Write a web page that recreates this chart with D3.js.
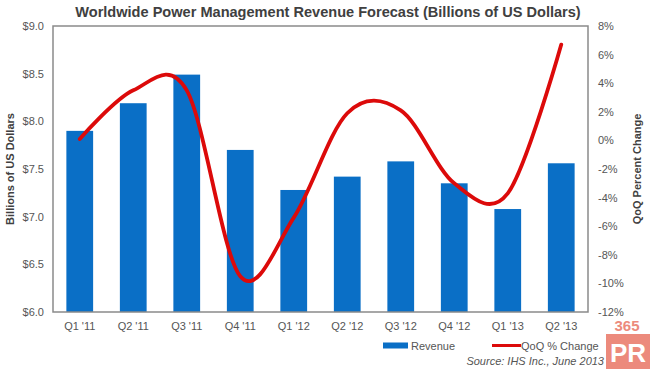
<!DOCTYPE html>
<html><head><meta charset="utf-8">
<script src="https://cdn.jsdelivr.net/npm/d3@7"></script>
<style>
html,body{margin:0;padding:0;background:#fff;}
svg{display:block;font-family:"Liberation Sans",Arial,sans-serif;}
</style></head>
<body>
<svg id="c" width="650" height="369"></svg>
<script>
const categories = ["Q1 '11","Q2 '11","Q3 '11","Q4 '11","Q1 '12","Q2 '12","Q3 '12","Q4 '12","Q1 '13","Q2 '13"];
const revenue = [7.90, 8.19, 8.49, 7.70, 7.28, 7.42, 7.58, 7.35, 7.08, 7.56];
const qoqChange = [0.1, 3.5, 3.5, -9.5, -5.4, 1.9, 2.1, -3.0, -3.7, 6.7];
const leftTicks = [6.0, 6.5, 7.0, 7.5, 8.0, 8.5, 9.0];
const rightTicks = [-12, -10, -8, -6, -4, -2, 0, 2, 4, 6, 8];

const svg = d3.select("#c");
const L = 53, R = 588, T = 26, B = 312;

const x = d3.scaleBand().domain(categories).range([L, R]).paddingInner(0.5).paddingOuter(0.25);
const yL = d3.scaleLinear().domain([6, 9]).range([B, T]);
const yR = d3.scaleLinear().domain([-12, 8]).range([B, T]);

const textCol = "#555";

// title
const title = svg.append("text").attr("x", 328).attr("y", 17).attr("text-anchor", "middle")
  .attr("font-weight", "bold").attr("font-size", 14).attr("fill", "#404040")
  .text("Worldwide Power Management Revenue Forecast (Billions of US Dollars)");
const tw = title.node().getComputedTextLength();
title.attr("font-size", 14 * 506 / tw);

// bars
svg.append("g").selectAll("rect").data(revenue).join("rect")
  .attr("x", (d, i) => x(categories[i]))
  .attr("width", x.bandwidth())
  .attr("y", d => yL(d))
  .attr("height", d => yL(6) - yL(d))
  .attr("fill", "#0a6fc6");

// frame
svg.append("rect").attr("x", L).attr("y", T).attr("width", R - L).attr("height", B - T)
  .attr("fill", "none").attr("stroke", "#8a8a8a").attr("stroke-width", 1.5);

// left axis
const axL = svg.append("g").attr("transform", `translate(${L},0)`)
  .call(d3.axisLeft(yL).tickValues(leftTicks).tickSize(0).tickPadding(9).tickFormat(d => "$" + d3.format(".1f")(d)));
axL.select(".domain").remove();
axL.selectAll("text").attr("font-size", 11).attr("fill", textCol).attr("font-family", "Liberation Sans, Arial, sans-serif");

// right axis
const axR = svg.append("g").attr("transform", `translate(${R},0)`)
  .call(d3.axisRight(yR).tickValues(rightTicks).tickSize(0).tickPadding(10).tickFormat(d => d + "%"));
axR.select(".domain").remove();
axR.selectAll("text").attr("font-size", 11).attr("fill", textCol).attr("font-family", "Liberation Sans, Arial, sans-serif");

// bottom axis
const axB = svg.append("g").attr("transform", `translate(0,${B})`)
  .call(d3.axisBottom(x).tickSize(0).tickPadding(10));
axB.select(".domain").remove();
axB.selectAll("text").attr("font-size", 11).attr("fill", textCol).attr("font-family", "Liberation Sans, Arial, sans-serif");

// line
const line = d3.line()
  .x((d, i) => x(categories[i]) + x.bandwidth() / 2)
  .y(d => yR(d))
  .curve(d3.curveCatmullRom.alpha(0));
svg.append("path").datum(qoqChange).attr("d", line)
  .attr("fill", "none").attr("stroke", "#dc0a0a").attr("stroke-width", 3.8).attr("stroke-linecap", "round");

// axis titles
svg.append("text").attr("transform", "translate(14,169) rotate(-90)").attr("text-anchor", "middle")
  .attr("font-weight", "bold").attr("font-size", 11).attr("fill", "#404040").text("Billions of US Dollars");
svg.append("text").attr("transform", "translate(641,169) rotate(-90)").attr("text-anchor", "middle")
  .attr("font-weight", "bold").attr("font-size", 11).attr("fill", "#404040").text("QoQ Percent Change");

// legend
const lg = svg.append("g");
lg.append("rect").attr("x", 383).attr("y", 342.5).attr("width", 25).attr("height", 6).attr("fill", "#0a6fc6");
lg.append("text").attr("x", 411).attr("y", 349.5).attr("font-size", 11).attr("fill", textCol).text("Revenue");
lg.append("line").attr("x1", 492).attr("x2", 521).attr("y1", 345.5).attr("y2", 345.5)
  .attr("stroke", "#dc0a0a").attr("stroke-width", 3);
lg.append("text").attr("x", 521).attr("y", 349.5).attr("font-size", 11).attr("fill", textCol).text("QoQ % Change");

svg.append("text").attr("x", 604).attr("y", 365).attr("text-anchor", "end").attr("font-style", "italic")
  .attr("font-size", 11).attr("fill", textCol).text("Source: IHS Inc., June 2013");

// watermark
const wm = svg.append("g");
wm.append("text").attr("x", 627).attr("y", 331).attr("text-anchor", "middle").attr("font-weight", "bold")
  .attr("font-size", 15).attr("fill", "#ec8a7c").text("365");
wm.append("rect").attr("x", 606).attr("y", 334).attr("width", 44).attr("height", 35).attr("fill", "#ec8a7c");
wm.append("text").attr("x", 628).attr("y", 362).attr("text-anchor", "middle").attr("font-weight", "bold")
  .attr("font-size", 26).attr("fill", "#fff").text("PR");
</script>
</body></html>
